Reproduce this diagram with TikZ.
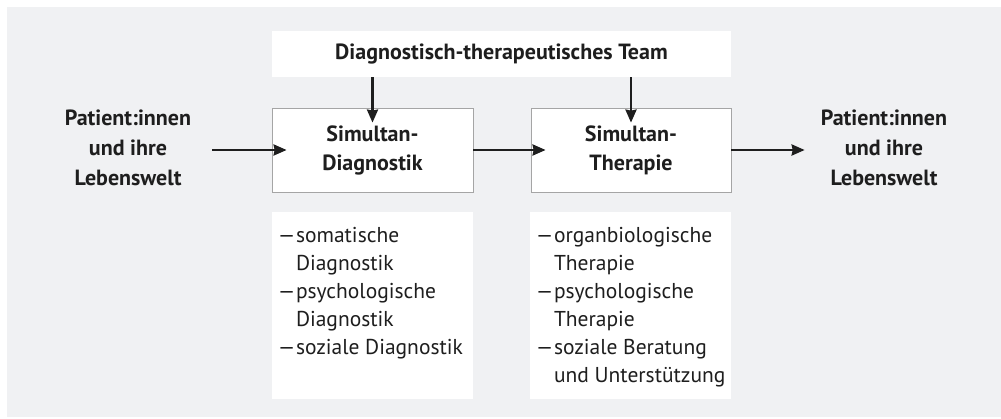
\documentclass[tikz,border=0pt]{standalone}
\usepackage{fontspec}
\setmainfont{PT Sans}
\usepackage{tikz}
\usetikzlibrary{calc,arrows.meta}

\definecolor{hintergrund}{RGB}{240,241,243}
\definecolor{rahmen}{RGB}{165,165,165}
\definecolor{schrift}{RGB}{30,30,30}

\newcommand{\strich}{\makebox[19pt][l]{\scalebox{1.35}[1]{–}}}
\newcommand{\einzug}{\hspace*{19pt}}

\begin{document}
\begin{tikzpicture}[x=1pt,y=1pt]
        \tikzstyle {kasten} = [rectangle, draw=rahmen, line width=0.8pt, fill=white, text=schrift, font=\fontsize{22}{29}\selectfont\bfseries, align=center]
        \tikzstyle {feld} = [rectangle, fill=white, inner sep=0pt]
        \tikzstyle {etikett} = [text=schrift, font=\fontsize{22}{30}\selectfont\bfseries, align=center, inner sep=0pt]
        \tikzstyle {liste} = [text=schrift, font=\fontsize{21.5}{28}\selectfont, align=left, inner sep=0pt]
        \tikzstyle {pfeil} = [draw=schrift, line width=2.5pt, -{Stealth[length=13pt,width=11pt,inset=1pt]}]
        % Hintergrund
        \fill[hintergrund] (7,1) rectangle (1001,411);
        \useasboundingbox (0,0) rectangle (1001,418);
        % Team
        \node (team) [feld, minimum width=459pt, minimum height=46pt, text=schrift, font=\fontsize{22}{29}\selectfont\bfseries] at (501.5,364) {Diagnostisch-therapeutisches Team};
        % Diagnostik und Therapie
        \node (diag) [kasten, minimum width=201pt, minimum height=84pt] at (372.5,268) {Simultan-\\Diagnostik};
        \node (ther) [kasten, minimum width=200pt, minimum height=84pt] at (631,268) {Simultan-\\Therapie};
        \node (links) [etikett] at (128,270) {Patient:innen\\und ihre\\Lebenswelt};
        \node (rechts) [etikett] at (884,270) {Patient:innen\\und ihre\\Lebenswelt};
        \draw[pfeil] ($(links.east)+(21,-2)$) -- ($(diag.west)+(15,0)$);
        \draw[pfeil] (diag.east) -- ($(ther.west)+(15,0)$);
        \draw[pfeil] (ther.east) -- ($(rechts.west)+(-16,-2)$);
        \draw[pfeil] (team.south -| diag.north) -- ($(diag.north)+(0,-15)$);
        \draw[pfeil] (team.south -| ther.north) -- ($(ther.north)+(0,-15)$);
        % Listen
        \node (diagfeld) [feld, minimum width=201pt, minimum height=187pt] at (372.5,112.5) {};
        \node (therfeld) [feld, minimum width=201pt, minimum height=187pt] at (630.5,112.5) {};
        \node (diagliste) [liste, anchor=north west] at ($(diagfeld.north west)+(5,-15)$) {\strich somatische\\\einzug Diagnostik\\\strich psychologische\\\einzug Diagnostik\\\strich soziale Diagnostik};
        \node (therliste) [liste, anchor=north west] at ($(therfeld.north west)+(5,-15)$) {\strich organbiologische\\\einzug Therapie\\\strich psychologische\\\einzug Therapie\\\strich soziale Beratung\\\einzug und Unterstützung};
    \end{tikzpicture}
\end{document}
